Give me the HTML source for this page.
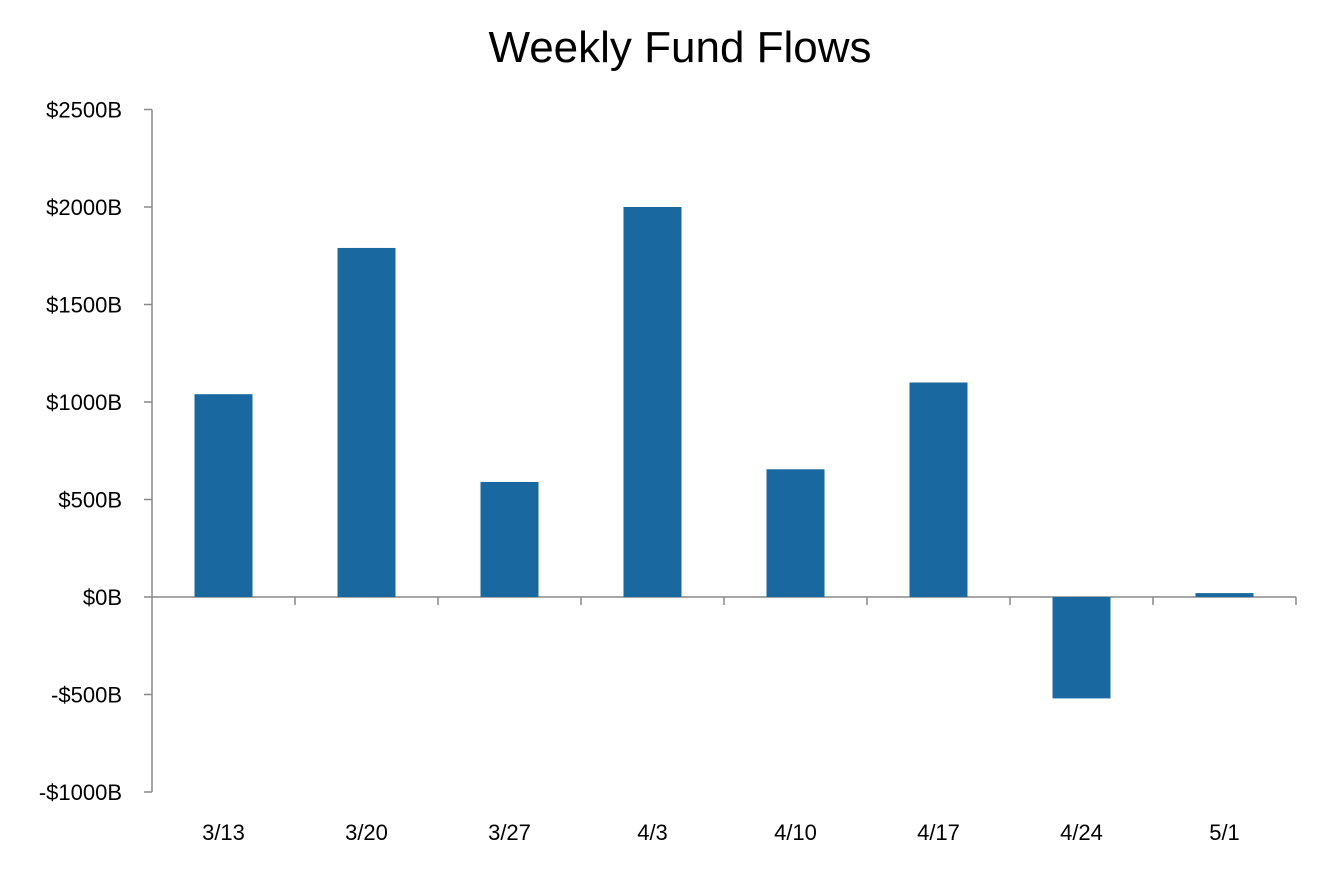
<!DOCTYPE html>
<html><head><meta charset="utf-8"><style>
html,body{margin:0;padding:0;background:#fff;}
svg{display:block;font-family:"Liberation Sans",sans-serif;}
</style></head><body>
<svg id="chart" width="1331" height="895">
<text x="680" y="62" text-anchor="middle" font-size="44" fill="#000">Weekly Fund Flows</text>
<g id="axes"></g><g id="bars"></g>
</svg>
<script>
const categories = ["3/13","3/20","3/27","4/3","4/10","4/17","4/24","5/1"];
const flows = [1040,1790,590,2000,655,1100,-520,20];
const yTicks = [2500,2000,1500,1000,500,0,-500,-1000];
const yTickLabels = ["$2500B","$2000B","$1500B","$1000B","$500B","$0B","-$500B","-$1000B"];
const NS="http://www.w3.org/2000/svg";
const x0=152,x1=1296,yTop=109.5,yBot=792,vMax=2500,vMin=-1000;
const y=v=>yTop+(vMax-v)/(vMax-vMin)*(yBot-yTop);
const band=(x1-x0)/categories.length;
const xc=i=>x0+band*(i+0.5);
function mk(tag,attrs,parent){const e=document.createElementNS(NS,tag);for(const k in attrs)e.setAttribute(k,attrs[k]);parent.appendChild(e);return e;}
const axes=document.getElementById('axes'),bars=document.getElementById('bars');
let l=mk('line',{x1:x0,y1:yTop,x2:x0,y2:yBot,stroke:'#888','stroke-width':1.5},axes);


yTicks.forEach((t,i)=>{
 const tk=mk('line',{x1:x0-8,y1:y(t),x2:x0,y2:y(t),stroke:'#888','stroke-width':1.5},axes);
 
 
 const tx=mk('text',{x:122,y:y(t)+8,'text-anchor':'end','font-size':22,fill:'#000'},axes);
 tx.textContent=yTickLabels[i];
 
 
});
l=mk('line',{x1:x0,y1:y(0),x2:x1,y2:y(0),stroke:'#888','stroke-width':1.5},axes);


categories.forEach((c,i)=>{
 const xt=x0+band*(i+1);
 const tk=mk('line',{x1:xt,y1:y(0),x2:xt,y2:y(0)+8,stroke:'#888','stroke-width':1.5},axes);
 
 
 const tx=mk('text',{x:xc(i),y:840,'text-anchor':'middle','font-size':22,fill:'#000'},axes);
 tx.textContent=c;
 
 
 const v=flows[i],bw=58;
 const r=mk('rect',{x:xc(i)-bw/2,y:Math.min(y(v),y(0)),width:bw,height:Math.abs(y(v)-y(0)),fill:'#1a68a0'},bars);
 
 
});
</script>
</body></html>
